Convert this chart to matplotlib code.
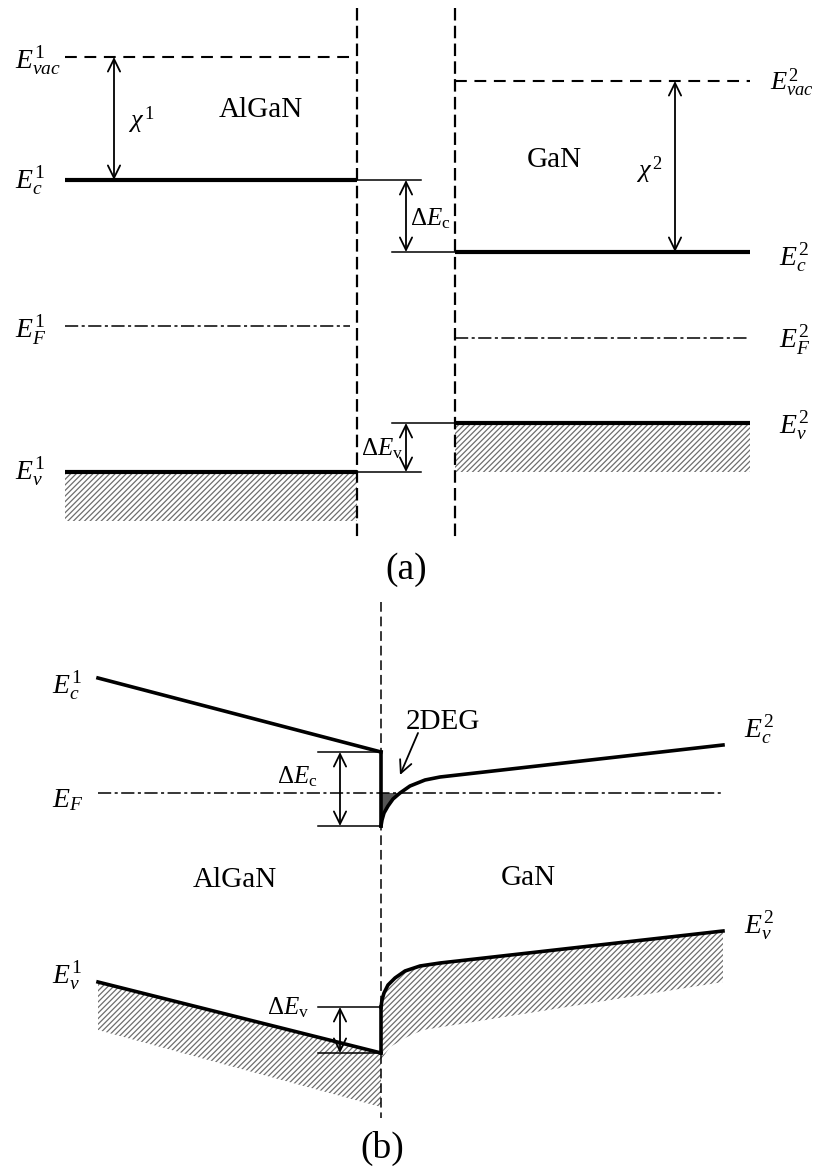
import matplotlib
matplotlib.use("Agg")
import matplotlib.pyplot as plt

plt.rcParams["font.family"] = "Liberation Serif"
plt.rcParams["mathtext.fontset"] = "custom"
plt.rcParams["mathtext.rm"] = "Liberation Serif"
plt.rcParams["mathtext.it"] = "Liberation Serif:italic"
plt.rcParams["mathtext.bf"] = "Liberation Serif:bold"
plt.rcParams["lines.scale_dashes"] = False
plt.rcParams["hatch.linewidth"] = 0.9

# Panel (a): flat bands before contact (values in picture pixels, down = lower energy)
a_algan_x = [65, 357]
a_gan_x = [455, 750]
a_algan_levels = [57, 180, 326, 472]   # E_vac, E_c, E_F, E_v
a_gan_levels = [81, 252, 338, 423]
a_vband_depth = 49
a_labels_1 = [r"$E_{vac}^{1}$", r"$E_{c}^{1}$", r"$E_{F}^{1}$", r"$E_{v}^{1}$"]
a_labels_2 = [r"$E_{vac}^{2}$", r"$E_{c}^{2}$", r"$E_{F}^{2}$", r"$E_{v}^{2}$"]
a_label_y1 = [61, 180, 330, 472]
a_label_y2 = [83, 258, 340, 425]

# Panel (b): bent bands after contact
b_junction = 381
b_algan_x = [98, 381]
b_algan_ec = [678, 752]
b_algan_ev = [982, 1053]
b_algan_ev_low = [1030, 1107]
b_ef = 793
b_ec_x = [381, 382, 384, 388, 393, 400, 410, 425, 440, 723]
b_gan_ec = [826, 820, 813, 806, 799, 793, 786, 780, 777, 745]
b_ev_x = [381, 382, 384, 388, 395, 405, 420, 440, 723]
b_gan_ev = [1007, 1000, 993, 985, 978, 971, 966, 963, 931]
b_low_x = [381, 390, 407, 423, 723]
b_gan_ev_low = [1060, 1047, 1037, 1030, 982]

HATCH = "#6e6e6e"


def darrow(ax, x, y0, y1, lw=1.3):
    ax.annotate("", xy=(x, y1), xytext=(x, y0),
                arrowprops=dict(arrowstyle="<->,head_length=0.45,head_width=0.22",
                                lw=lw, color="black", shrinkA=0, shrinkB=0,
                                mutation_scale=20))


fig = plt.figure(figsize=(8.15, 11.69), dpi=100)
ax = fig.add_axes([0, 0, 1, 1])
ax.set_xlim(0, 815)
ax.set_ylim(1169, 0)
ax.axis("off")

# ---------------- panel (a) ----------------
vac1, ec1, ef1, ev1 = a_algan_levels
vac2, ec2, ef2, ev2 = a_gan_levels

# valence band hatching
ax.fill_between(a_algan_x, ev1, ev1 + a_vband_depth, facecolor="white",
                edgecolor=HATCH, hatch="//////", linewidth=0)
ax.fill_between(a_gan_x, ev2, ev2 + a_vband_depth, facecolor="white",
                edgecolor=HATCH, hatch="//////", linewidth=0)

# interfaces
for xv in [a_algan_x[1], a_gan_x[0]]:
    ax.plot([xv, xv], [8, 540], color="k", lw=1.6, dashes=(9, 3.8))

# vacuum levels
ax.plot([a_algan_x[0], a_algan_x[1] - 2], [vac1, vac1], color="k", lw=1.5, dashes=(8.5, 5.5))
ax.plot([a_gan_x[0], a_gan_x[1]], [vac2, vac2], color="k", lw=1.5, dashes=(8.5, 5.5))

# fermi levels
ax.plot([a_algan_x[0], a_algan_x[1] - 7], [ef1, ef1], color="k", lw=1.1,
        dashes=(9.5, 2.5, 2.2, 2.5))
ax.plot([a_gan_x[0], a_gan_x[1]], [ef2, ef2], color="k", lw=1.1,
        dashes=(9.5, 2.5, 2.2, 2.5))

# band edges (thick) and their thin extensions for the offsets
ax.plot(a_algan_x, [ec1, ec1], color="k", lw=3.0, solid_capstyle="butt")
ax.plot(a_algan_x, [ev1, ev1], color="k", lw=3.0, solid_capstyle="butt")
ax.plot(a_gan_x, [ec2, ec2], color="k", lw=3.0, solid_capstyle="butt")
ax.plot(a_gan_x, [ev2, ev2], color="k", lw=3.0, solid_capstyle="butt")
ax.plot([a_algan_x[1], 421], [ec1, ec1], color="k", lw=1.1)
ax.plot([a_algan_x[1], 421], [ev1, ev1], color="k", lw=1.1)
ax.plot([392, a_gan_x[0]], [ec2, ec2], color="k", lw=1.1)
ax.plot([392, a_gan_x[0]], [ev2, ev2], color="k", lw=1.1)

darrow(ax, 114, vac1, ec1)
darrow(ax, 675, vac2, ec2)
darrow(ax, 406, ec1, ec2)
darrow(ax, 406, ev2, ev1)

for lab, y in zip(a_labels_1, a_label_y1):
    ax.text(15, y, lab, fontsize=20, ha="left", va="center")
for i, (lab, y) in enumerate(zip(a_labels_2, a_label_y2)):
    if i == 0:
        ax.text(770, y, lab, fontsize=19, ha="left", va="center")
    else:
        ax.text(779, y, lab, fontsize=20, ha="left", va="center")

ax.text(128, 120, r"$\chi^{\,1}$", fontsize=19, ha="left", va="center")
ax.text(636, 170, r"$\chi^{\,2}$", fontsize=19, ha="left", va="center")
ax.text(261, 110, "AlGaN", fontsize=21, ha="center", va="center")
ax.text(554, 160, "GaN", fontsize=21, ha="center", va="center")
ax.text(410, 219, r"$\Delta E_{\mathrm{c}}$", fontsize=18, ha="left", va="center")
ax.text(361, 449, r"$\Delta E_{\mathrm{v}}$", fontsize=18, ha="left", va="center")
ax.text(406, 570, "(a)", fontsize=27, ha="center", va="center")

# ---------------- panel (b) ----------------
# hatched valence bands
ax.fill(b_algan_x + b_algan_x[::-1], b_algan_ev + b_algan_ev_low[::-1],
        facecolor="white", edgecolor=HATCH, hatch="//////", linewidth=0)
ax.fill(b_ev_x + b_low_x[::-1], b_gan_ev + b_gan_ev_low[::-1],
        facecolor="white", edgecolor=HATCH, hatch="//////", linewidth=0)

# 2DEG well below the Fermi level
well_x = [x for x, y in zip(b_ec_x, b_gan_ec) if y >= b_ef]
well_y = [y for y in b_gan_ec if y >= b_ef]
ax.fill_between(well_x, well_y, b_ef, facecolor="#555555", edgecolor="none")

ax.plot([b_junction, b_junction], [602, 1118], color="k", lw=1.1, dashes=(7, 3.5))
ax.plot([b_algan_x[0], b_ec_x[-1]], [b_ef, b_ef], color="k", lw=1.1,
        dashes=(9.5, 2.5, 2.2, 2.5))

ax.plot(b_algan_x, b_algan_ec, color="k", lw=2.6)
ax.plot(b_algan_x, b_algan_ev, color="k", lw=2.6)
ax.plot([b_junction, b_junction], [b_algan_ec[1], b_gan_ec[0]], color="k", lw=2.6)
ax.plot([b_junction, b_junction], [b_gan_ev[0], b_algan_ev[1]], color="k", lw=2.6)
ax.plot(b_ec_x, b_gan_ec, color="k", lw=2.6, solid_joinstyle="round")
ax.plot(b_ev_x, b_gan_ev, color="k", lw=2.6, solid_joinstyle="round")

# offset markers
for y in [b_algan_ec[1], b_gan_ec[0], b_gan_ev[0], b_algan_ev[1]]:
    ax.plot([318, b_junction], [y, y], color="k", lw=1.1)
darrow(ax, 340, b_algan_ec[1], b_gan_ec[0])
darrow(ax, 340, b_gan_ev[0], b_algan_ev[1])

ax.annotate("", xy=(400, 775), xytext=(418, 733),
            arrowprops=dict(arrowstyle="->,head_length=0.45,head_width=0.22",
                            lw=1.3, color="k", shrinkA=0, shrinkB=0,
                            mutation_scale=20))

ax.text(52, 685, r"$E_{c}^{1}$", fontsize=20, ha="left", va="center")
ax.text(52, 800, r"$E_{F}$", fontsize=20, ha="left", va="center")
ax.text(52, 975, r"$E_{v}^{1}$", fontsize=20, ha="left", va="center")
ax.text(744, 730, r"$E_{c}^{2}$", fontsize=20, ha="left", va="center")
ax.text(744, 925, r"$E_{v}^{2}$", fontsize=20, ha="left", va="center")
ax.text(318, 777, r"$\Delta E_{\mathrm{c}}$", fontsize=18, ha="right", va="center")
ax.text(309, 1008, r"$\Delta E_{\mathrm{v}}$", fontsize=18, ha="right", va="center")
ax.text(443, 722, "2DEG", fontsize=21, ha="center", va="center")
ax.text(235, 880, "AlGaN", fontsize=21, ha="center", va="center")
ax.text(528, 878, "GaN", fontsize=21, ha="center", va="center")
ax.text(382, 1148, "(b)", fontsize=27, ha="center", va="center")

fig.savefig("out.png", dpi=100)
